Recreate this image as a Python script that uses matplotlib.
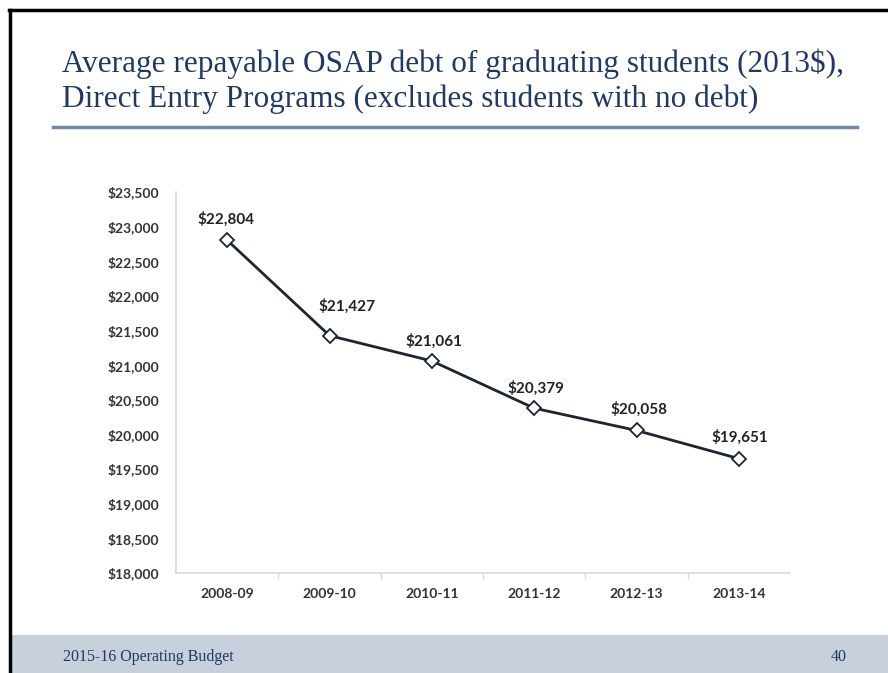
import matplotlib.pyplot as plt
from matplotlib.lines import Line2D
from matplotlib.patches import Rectangle
from matplotlib.ticker import FuncFormatter, FixedLocator

# Data
years = ['2008-09', '2009-10', '2010-11', '2011-12', '2012-13', '2013-14']
debt = [22804, 21427, 21061, 20379, 20058, 19651]
y_ticks = list(range(18000, 23501, 500))

title_1 = 'Average repayable OSAP debt of graduating students (2013$),'
title_2 = 'Direct Entry Programs (excludes students with no debt)'
footer_left = '2015-16 Operating Budget'
footer_right = '40'

navy = '#1f3864'
label_font = ['Lato', 'DejaVu Sans']

fig = plt.figure(figsize=(8.88, 6.73), dpi=100)
W, H = 888, 673

def fx(px):
    return px / W

def fy(py):
    return 1 - py / H

# slide frame (black border on top and left)
fig.add_artist(Line2D([fx(9), 1], [fy(10), fy(10)], color='black', lw=2.5))
fig.add_artist(Line2D([fx(10), fx(10)], [fy(10), 0], color='black', lw=2.5))

# footer band
fig.add_artist(Rectangle((fx(11), 0), 1 - fx(11), fy(635), transform=fig.transFigure,
                         facecolor='#c8d0dc', edgecolor='none'))
fig.text(fx(63), fy(657), footer_left, fontsize=11.5, color=navy,
         family='Liberation Serif', va='center', ha='left')
fig.text(fx(847), fy(657), footer_right, fontsize=11.5, color=navy,
         family='Liberation Serif', va='center', ha='right')

# title and rule underneath
fig.text(fx(62), fy(72), title_1, fontsize=22.5, color=navy,
         family='Liberation Serif', va='baseline', ha='left')
fig.text(fx(62), fy(107), title_2, fontsize=22.5, color=navy,
         family='Liberation Serif', va='baseline', ha='left')
fig.add_artist(Line2D([fx(53), fx(857)], [fy(127), fy(127)], color='#6f88a8', lw=2.5))

# chart
ax = fig.add_axes([fx(176), fy(573), fx(790) - fx(176), fy(192) - fy(573)])
x = list(range(len(years)))
ax.plot(x, debt, color='#1c2630', lw=2.0, marker='D', markersize=7,
        markerfacecolor='white', markeredgecolor='#1c2630', markeredgewidth=1.3, zorder=3)

# label centre offsets in pixels (dx, dy) as placed on the slide
offsets = [(-1, 21), (17, 29), (2, 20), (2, 20), (2, 21), (1, 21)]
for xi, v, (dx, dy) in zip(x, debt, offsets):
    ax.annotate(f'${v:,}', (xi, v), xytext=(dx * 0.72, dy * 0.72), textcoords='offset points',
                ha='center', va='center', fontsize=11, fontweight='bold',
                color='#222222', family=label_font)

ax.set_xlim(-0.5, len(years) - 0.5)
ax.set_ylim(18000, 23500)
ax.set_xticks(x)
ax.set_xticklabels(years)
ax.xaxis.set_minor_locator(FixedLocator([i + 0.5 for i in range(len(years) - 1)]))
ax.set_yticks(y_ticks)
ax.yaxis.set_major_formatter(FuncFormatter(lambda v, p: f'${int(v):,}'))

for lab in ax.get_xticklabels() + ax.get_yticklabels():
    lab.set_fontweight('bold')
    lab.set_family(label_font)
    lab.set_color('#333333')
    lab.set_fontsize(10)

ax.tick_params(axis='x', which='major', length=0, pad=11)
ax.tick_params(axis='x', which='minor', length=4, color='#d9d9d9', width=1)
ax.tick_params(axis='y', length=0, pad=12)

for side in ['top', 'right']:
    ax.spines[side].set_visible(False)
for side in ['left', 'bottom']:
    ax.spines[side].set_color('#d9d9d9')
    ax.spines[side].set_linewidth(1.2)

fig.savefig('out.png', dpi=100)
